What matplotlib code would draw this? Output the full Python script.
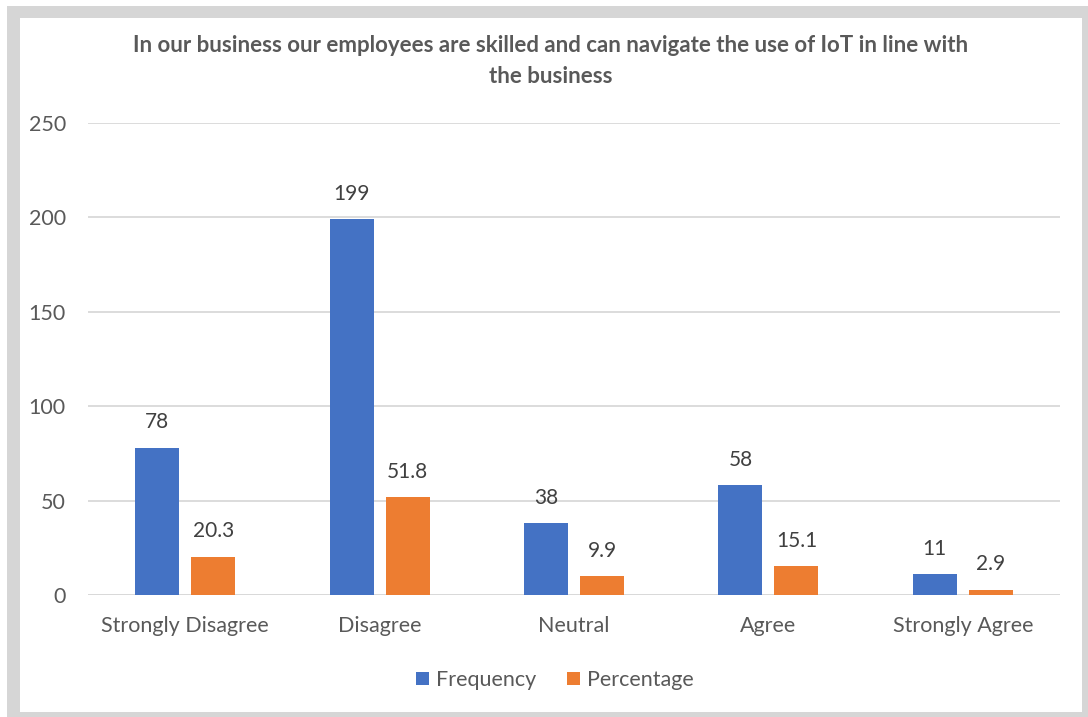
import matplotlib
matplotlib.use("Agg")
import matplotlib.pyplot as plt
from matplotlib.patches import Rectangle
import numpy as np

categories = ["Strongly Disagree", "Disagree", "Neutral", "Agree", "Strongly Agree"]
frequency = [78, 199, 38, 58, 11]
percentage = [20.3, 51.8, 9.9, 15.1, 2.9]
freq_labels = ["78", "199", "38", "58", "11"]
pct_labels = ["20.3", "51.8", "9.9", "15.1", "2.9"]
yticks = [0, 50, 100, 150, 200, 250]
title = "In our business our employees are skilled and can navigate the use of IoT in line with\nthe business"

BLUE = "#4472C4"
ORANGE = "#ED7D31"
TEXT = "#595959"
GRID = "#D9D9D9"

plt.rcParams["font.family"] = ["Lato", "DejaVu Sans"]

W, H = 1088, 717
fig = plt.figure(figsize=(W / 100, H / 100), dpi=100)

# grey frame around the chart
fig.patches.append(Rectangle((7 / W, 0), (W - 7) / W, (H - 6) / H,
                             transform=fig.transFigure, facecolor="#D6D6D6",
                             edgecolor="none", zorder=-2))
fig.patches.append(Rectangle((20 / W, 5 / H), (1082 - 20) / W, (712 - 18) / H,
                             transform=fig.transFigure, facecolor="white",
                             edgecolor="none", zorder=-1))

left, right = 88 / W, 1060 / W
bottom, top = 1 - 595 / H, 1 - 123 / H
ax = fig.add_axes([left, bottom, right - left, top - bottom])
ax.set_facecolor("none")

x = np.arange(len(categories))
bw = 0.226
off = 0.144
b1 = ax.bar(x - off, frequency, bw, color=BLUE, label="Frequency", zorder=3)
b2 = ax.bar(x + off, percentage, bw, color=ORANGE, label="Percentage", zorder=3)

for bars, labels in ((b1, freq_labels), (b2, pct_labels)):
    for rect, lab in zip(bars, labels):
        ax.annotate(lab, (rect.get_x() + rect.get_width() / 2, rect.get_height()),
                    xytext=(0, 11), textcoords="offset points", ha="center", va="bottom",
                    fontsize=15, color="#404040")

ax.set_xlim(-0.5, len(categories) - 0.5)
ax.set_ylim(0, 250)
ax.set_yticks(yticks)
ax.set_yticklabels([str(t) for t in yticks])
ax.set_xticks(x)
ax.set_xticklabels(categories)
ax.tick_params(axis="both", length=0, labelsize=15.5, labelcolor=TEXT)
ax.tick_params(axis="y", pad=16)
ax.tick_params(axis="x", pad=15)
ax.grid(axis="y", color=GRID, linewidth=1.3, zorder=0)
for s in ax.spines.values():
    s.set_visible(False)
ax.axhline(0, color=GRID, linewidth=1.3, zorder=2)

fig.text(551 / W, 1 - 61 / H, title, ha="center", va="center", fontsize=16,
         fontweight="bold", color=TEXT, linespacing=1.6)

leg = fig.legend(handles=[b1, b2], loc="center", bbox_to_anchor=(555 / W, 1 - 680 / H),
                 ncol=2, frameon=False, fontsize=15.5, handlelength=0.6, handleheight=0.6,
                 handletextpad=0.35, columnspacing=1.4)
for t in leg.get_texts():
    t.set_color(TEXT)

fig.savefig("out.png", dpi=100)
